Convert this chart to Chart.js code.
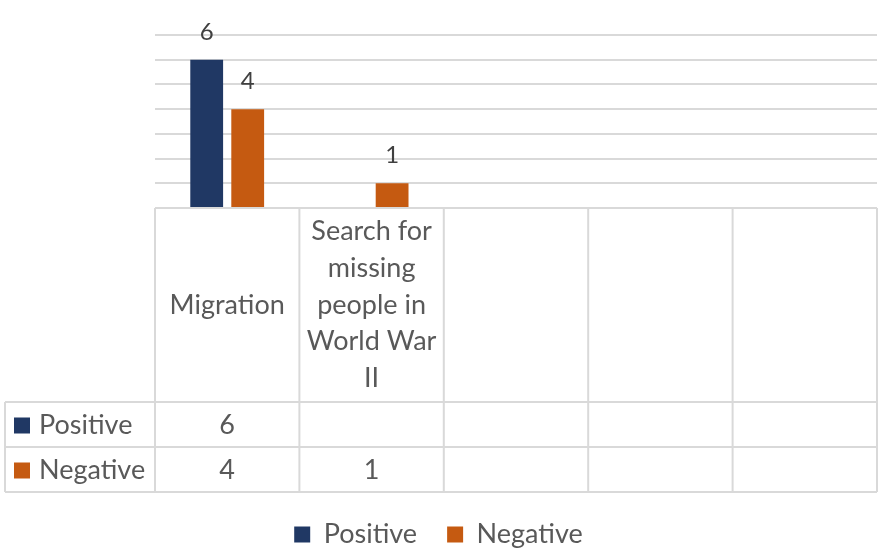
<!DOCTYPE html>
<html>
<head>
<meta charset="utf-8">
<script src="https://cdn.jsdelivr.net/npm/chart.js@4.4.0/dist/chart.umd.min.js"></script>
<style>
  html, body { margin: 0; padding: 0; background: #fff; }
  #wrap { width: 880px; height: 553px; position: relative; }
</style>
</head>
<body>
<div id="wrap"><canvas id="chart"></canvas></div>
<script>
// категории и ряды
var categories = ["Migration", ["Search for", "missing", "people in", "World War", "II"], "", "", ""];
var positiveValues = [6, null, null, null, null];
var negativeValues = [4, 1, null, null, null];
var seriesNames = ["Positive", "Negative"];
var seriesColors = ["#203864", "#C55A11"];

var textColor = "#595959";
var lineColor = "#D9D9D9";
var fontFamily = "Lato, 'Open Sans', sans-serif";
var tableFont = "27px " + fontFamily;
var legendShift = 5; // сдвиг легенды вниз

// подписи над столбцами
var barLabels = {
    id: "barLabels",
    afterDatasetsDraw: function (chart) {
        var ctx = chart.ctx;
        ctx.save();
        ctx.fillStyle = "#404040";
        ctx.font = "24px " + fontFamily;
        ctx.textAlign = "center";
        ctx.textBaseline = "alphabetic";
        chart.data.datasets.forEach(function (ds, di) {
            var meta = chart.getDatasetMeta(di);
            meta.data.forEach(function (el, i) {
                if (ds.data[i] == null) return;
                ctx.fillText(String(ds.data[i]), el.x, el.y - 20);
            });
        });
        ctx.restore();
    }
};

// таблица данных под графиком
var dataTable = {
    id: "dataTable",
    afterDraw: function (chart) {
        var ctx = chart.ctx;
        var x = chart.scales.x;
        var area = chart.chartArea;
        var n = categories.length;
        var step = (area.right - area.left) / n;
        var top = area.bottom;
        var labelRowH = 194;
        var rowH = 45;
        var rowsTop = top + labelRowH;
        var bottom = rowsTop + rowH * seriesNames.length;
        var headLeft = 5;

        ctx.save();
        ctx.strokeStyle = lineColor;
        ctx.lineWidth = 2;
        ctx.beginPath();
        // горизонтальные линии
        ctx.moveTo(area.left, top); ctx.lineTo(area.right, top);
        for (var r = 0; r <= seriesNames.length; r++) {
            var yy = rowsTop + r * rowH;
            ctx.moveTo(headLeft, yy); ctx.lineTo(area.right, yy);
        }
        // вертикальные линии
        for (var c = 0; c <= n; c++) {
            var xx = area.left + c * step;
            ctx.moveTo(xx, top); ctx.lineTo(xx, bottom);
        }
        ctx.moveTo(headLeft, rowsTop); ctx.lineTo(headLeft, bottom);
        ctx.stroke();

        ctx.fillStyle = textColor;
        ctx.font = tableFont;
        ctx.textAlign = "center";
        ctx.textBaseline = "middle";
        // подписи категорий
        categories.forEach(function (lab, i) {
            var cx = x.getPixelForTick(i);
            var lines = Array.isArray(lab) ? lab : [lab];
            var lh = 36.7;
            var y0 = top + labelRowH / 2 - (lines.length - 1) * lh / 2;
            lines.forEach(function (t, k) {
                ctx.fillText(t, cx, y0 + k * lh);
            });
        });
        // значения рядов
        var allValues = [positiveValues, negativeValues];
        allValues.forEach(function (vals, r) {
            var cy = rowsTop + r * rowH + rowH / 2 + 1;
            vals.forEach(function (v, i) {
                if (v == null) return;
                ctx.fillText(String(v), x.getPixelForTick(i), cy);
            });
            // заголовок строки
            ctx.fillStyle = seriesColors[r];
            ctx.fillRect(14, cy - 8, 16, 16);
            ctx.fillStyle = textColor;
            ctx.textAlign = "left";
            ctx.fillText(seriesNames[r], 39, cy);
            ctx.textAlign = "center";
        });
        ctx.restore();
    }
};

var chart = new Chart(document.getElementById("chart").getContext("2d"), {
    type: "bar",
    data: {
        labels: categories,
        datasets: [{
            label: seriesNames[0],
            data: positiveValues,
            backgroundColor: seriesColors[0]
        }, {
            label: seriesNames[1],
            data: negativeValues,
            backgroundColor: seriesColors[1]
        }]
    },
    options: {
        responsive: true,
        maintainAspectRatio: false,
        animation: false,
        categoryPercentage: 0.568,
        barPercentage: 0.8,
        layout: {
            padding: { left: 0, right: 3, top: 35, bottom: -legendShift }
        },
        scales: {
            x: {
                ticks: { display: false },
                grid: { display: false, drawTicks: false },
                border: { display: false },
                // низ области графика на y = 208
                afterFit: function (s) {
                    var lh = s.chart.legend ? s.chart.legend.height : 60;
                    s.height = s.chart.height + legendShift - 208 - lh;
                }
            },
            y: {
                min: 0,
                max: 7,
                ticks: { display: false, stepSize: 1 },
                grid: { color: lineColor, lineWidth: 2, drawTicks: false },
                border: { display: false },
                afterFit: function (s) { s.width = 155; }
            }
        },
        plugins: {
            legend: {
                position: "bottom",
                labels: {
                    color: textColor,
                    boxWidth: 16,
                    boxHeight: 16,
                    padding: 30,
                    font: { size: 27, family: fontFamily }
                }
            },
            tooltip: { enabled: false }
        }
    },
    plugins: [barLabels, dataTable]
});
</script>
</body>
</html>
